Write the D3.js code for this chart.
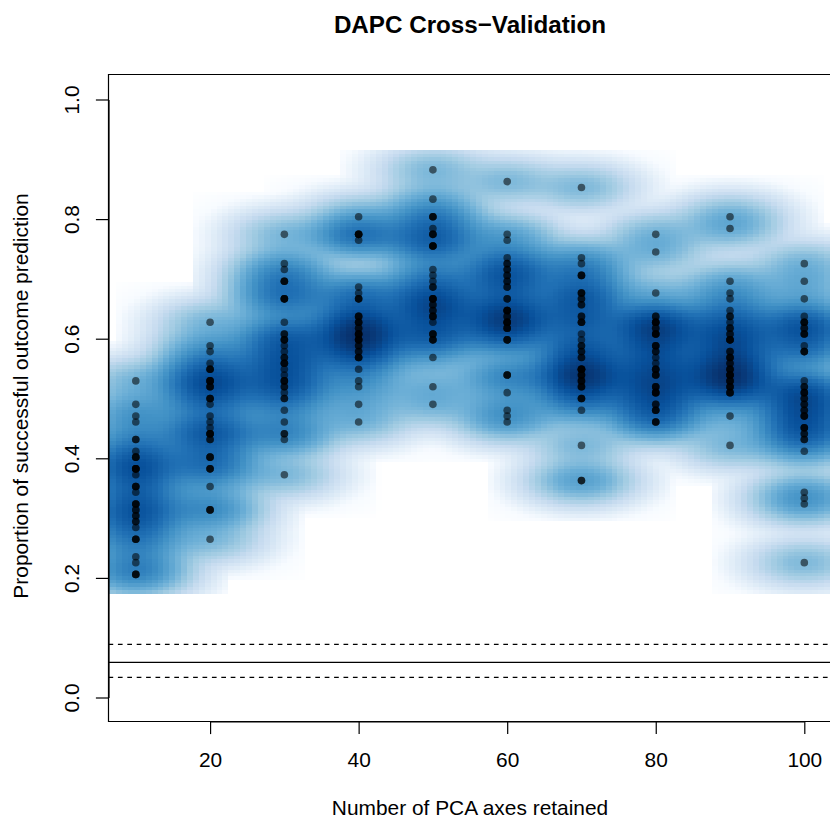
<!DOCTYPE html>
<html>
<head>
<meta charset="utf-8">
<script src="https://cdn.jsdelivr.net/npm/d3@7"></script>
<style>
html,body{margin:0;padding:0;background:#fff;overflow:hidden}
svg{display:block}
text{font-family:"Liberation Sans",Arial,Helvetica,sans-serif;fill:#000}
</style>
</head>
<body>
<svg id="chart" width="830" height="819"></svg>
<script>
// Number of correctly predicted samples (out of `trials`) per replicate, by PCA axes retained
const trials = 102;
const pcaAxes = [10,20,30,40,50,60,70,80,90,100];
const pred10 = [54,50,48,47,44,44,42,41,41,41,39,39,39,39,39,38,36,36,36,35,33,33,33,32,32,31,31,30,30,29,27,27,27,24,23,21,21,21];
const pred20 = [64,60,59,57,56,56,56,54,54,54,54,53,53,53,51,51,51,50,48,47,46,45,45,45,45,44,44,41,41,41,39,39,39,36,32,32,32,27];
const pred30 = [79,74,73,71,71,71,68,68,68,68,64,62,62,61,61,61,60,59,58,58,57,57,57,56,55,54,54,54,53,53,52,51,51,49,47,45,45,44,38];
const pred40 = [82,79,79,79,79,78,70,69,68,68,68,65,65,65,64,64,64,63,63,62,62,62,62,61,61,61,61,60,60,59,59,58,58,58,56,54,53,50,47];
const pred50 = [90,85,82,82,82,80,79,79,79,77,77,77,77,73,72,71,70,70,68,68,68,68,67,67,66,66,65,65,65,64,62,62,62,61,61,61,58,53,50];
const pred60 = [88,79,78,75,74,74,73,73,72,72,71,71,70,70,68,68,66,66,66,66,65,65,64,64,64,64,63,63,63,61,61,61,55,55,55,52,49,48,47];
const pred70 = [87,75,74,72,72,72,69,69,69,68,68,67,67,65,65,64,64,64,62,61,60,60,59,59,58,58,56,56,56,56,56,55,55,55,54,54,54,53,53,53,51,51,51,49,43,37,37];
const pred80 = [79,76,69,65,65,64,64,64,64,63,63,62,62,62,62,60,60,60,59,59,58,57,56,56,56,55,55,55,53,53,53,52,52,52,52,50,50,49,49,49,47,47,47];
const pred90 = [82,80,71,69,68,66,65,65,64,63,63,62,62,61,61,61,61,59,59,58,58,58,57,57,56,56,56,55,55,55,55,54,54,54,53,53,53,52,52,52,48,43];
const pred100 = [74,71,68,65,64,64,64,63,63,62,62,62,60,59,59,59,54,53,53,52,52,52,51,51,50,50,49,49,48,48,48,46,46,46,45,45,44,44,42,35,34,33,23];
const columns = [pred10,pred20,pred30,pred40,pred50,pred60,pred70,pred80,pred90,pred100];

const refMean = 0.0589, refLow = 0.0338, refHigh = 0.0890;
const xTicks = [20,40,60,80,100];
const yTicks = [0,0.2,0.4,0.6,0.8,1.0];
const blues = ["#FFFFFF","#F7FBFF","#DEEBF7","#C6DBEF","#9ECAE1","#6BAED6","#4292C6","#2171B5","#08519C","#08306B"];

const titleText = "DAPC Cross\u2212Validation";
const xTitle = "Number of PCA axes retained";
const yTitle = "Proportion of successful outcome prediction";

const box = {left:108.5, right:860, top:74.5, bottom:721.5};
const x = d3.scaleLinear().domain([10,100]).range([135.8,804.3]);
const y = d3.scaleLinear().domain([0,1]).range([697.5,99.5]);

const points = [];
pcaAxes.forEach((a,i)=>columns[i].forEach(k=>points.push({x:a,y:k/trials})));

// smoothScatter-style binned 2D kernel density (bkde2D)
const nbin = 128, tau = 3.4, hx = 3.6, hy = 0.0197;
const ax = d3.min(points,d=>d.x)-1.5*hx, bx = d3.max(points,d=>d.x)+1.5*hx;
const ay = d3.min(points,d=>d.y)-1.5*hy, by = d3.max(points,d=>d.y)+1.5*hy;
const dx = (bx-ax)/(nbin-1), dy = (by-ay)/(nbin-1);
const counts = d3.range(nbin).map(()=>new Float64Array(nbin));
points.forEach(p=>{
  const lx=(p.x-ax)/dx, ly=(p.y-ay)/dy;
  const i=Math.min(Math.floor(lx),nbin-2), j=Math.min(Math.floor(ly),nbin-2);
  const fx=lx-i, fy=ly-j;
  counts[i][j]+=(1-fx)*(1-fy); counts[i+1][j]+=fx*(1-fy);
  counts[i][j+1]+=(1-fx)*fy; counts[i+1][j+1]+=fx*fy;
});
const Lx=Math.floor(tau*hx/dx), Ly=Math.floor(tau*hy/dy);
const kx=d3.range(-Lx,Lx+1).map(l=>Math.exp(-0.5*(l*dx/hx)**2));
const ky=d3.range(-Ly,Ly+1).map(l=>Math.exp(-0.5*(l*dy/hy)**2));
const dens=d3.range(nbin).map(()=>new Float64Array(nbin));
for(let i=0;i<nbin;i++)for(let j=0;j<nbin;j++){
  const c=counts[i][j]; if(!c)continue;
  for(let a=-Lx;a<=Lx;a++){const ii=i+a; if(ii<0||ii>=nbin)continue;
    for(let b=-Ly;b<=Ly;b++){const jj=j+b; if(jj<0||jj>=nbin)continue;
      dens[ii][jj]+=c*kx[a+Lx]*ky[b+Ly];
    }}
}
const cells=[]; let vmax=0;
for(let i=0;i<nbin;i++)for(let j=0;j<nbin;j++){
  const d=dens[i][j]; if(d<=0)continue;
  const v=Math.pow(d,0.25); vmax=Math.max(vmax,v);
  cells.push({gx:ax+i*dx, gy:ay+j*dy, v});
}
const ramp=d3.scaleLinear().domain(blues.map((_,i)=>i/(blues.length-1))).range(blues).interpolate(d3.interpolateRgb);
const fillOf=v=>ramp(Math.floor(v/vmax*255.999)/255);

const svg=d3.select("#chart");
svg.append("defs").append("clipPath").attr("id","plot").append("rect")
  .attr("x",box.left).attr("y",box.top).attr("width",box.right-box.left).attr("height",box.bottom-box.top);
const plot=svg.append("g").attr("clip-path","url(#plot)");

plot.append("g").attr("shape-rendering","crispEdges").selectAll("rect").data(cells).join("rect")
  .attr("x",d=>x(d.gx-dx/2)).attr("width",d=>x(d.gx+dx/2)-x(d.gx-dx/2))
  .attr("y",d=>y(d.gy+dy/2)).attr("height",d=>y(d.gy-dy/2)-y(d.gy+dy/2))
  .attr("fill",d=>fillOf(d.v));

plot.append("g").selectAll("circle").data(points).join("circle")
  .attr("cx",d=>x(d.x)).attr("cy",d=>y(d.y)).attr("r",3.8)
  .attr("fill","#000").attr("fill-opacity",0.55);

const hl=[{v:refHigh,dash:"4.7,4.7"},{v:refMean,dash:null},{v:refLow,dash:"4.7,4.7"}];
plot.append("g").selectAll("line").data(hl).join("line")
  .attr("x1",box.left).attr("x2",box.right).attr("y1",d=>y(d.v)).attr("y2",d=>y(d.v))
  .attr("stroke","#000").attr("stroke-width",1.2).attr("stroke-dasharray",d=>d.dash);

// frame
svg.append("path").attr("d",`M${box.right},${box.top}H${box.left}V${box.bottom}H${box.right}`)
  .attr("fill","none").attr("stroke","#000").attr("stroke-width",1.2);

// axes through d3-axis
const fs=20.9;
const xAxisG=svg.append("g").attr("transform",`translate(0,${box.bottom})`)
  .call(d3.axisBottom(x).tickValues(xTicks).tickSize(12.6).tickSizeOuter(0).tickPadding(18).tickFormat(d3.format("d")));
const yAxisG=svg.append("g").attr("transform",`translate(${box.left},0)`)
  .call(d3.axisLeft(y).tickValues(yTicks).tickSize(12.6).tickSizeOuter(0).tickFormat(d3.format(".1f")));
xAxisG.select(".domain").attr("d",`M${x(xTicks[0])},0.5H${x(xTicks[xTicks.length-1])}`);
[xAxisG,yAxisG].forEach(g=>{
  g.selectAll("line").attr("stroke","#000").attr("stroke-width",1.2);
  g.select(".domain").attr("stroke","#000").attr("stroke-width",1.2);
  g.selectAll("text").attr("font-size",fs).attr("font-family",'"Liberation Sans"');
});
yAxisG.selectAll(".tick text")
  .attr("x",0).attr("y",0).attr("dy",null).attr("text-anchor","middle")
  .attr("transform","translate(-29.5,0) rotate(-90)");

svg.append("text").attr("x",470).attr("y",32.5).attr("text-anchor","middle")
  .attr("font-size",24.2).attr("font-weight","bold").text(titleText);
svg.append("text").attr("x",470).attr("y",814.5).attr("text-anchor","middle")
  .attr("font-size",fs).text(xTitle);
svg.append("text").attr("transform","translate(28,396) rotate(-90)").attr("text-anchor","middle")
  .attr("font-size",fs).text(yTitle);
</script>
</body>
</html>
